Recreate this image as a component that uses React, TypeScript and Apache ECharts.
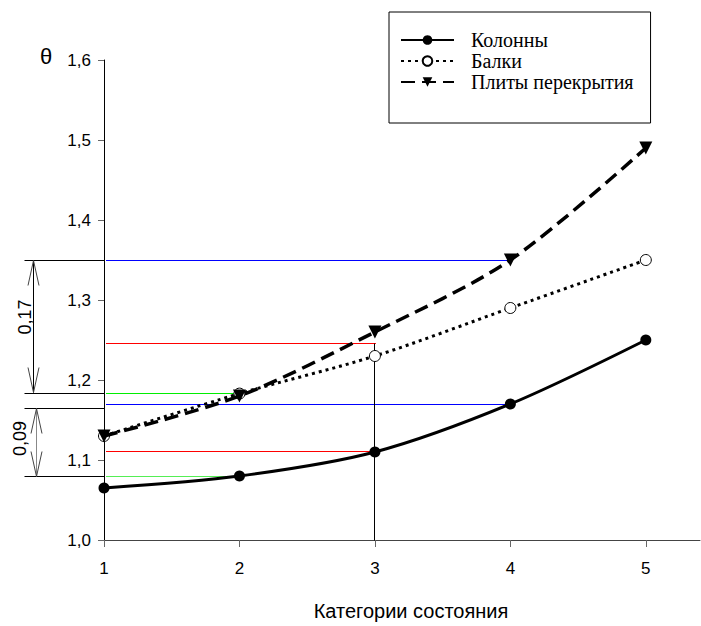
import React, { useEffect, useRef } from 'react';
import * as echarts from 'echarts';

const categories = [1, 2, 3, 4, 5];
const kolonny = [1.065, 1.08, 1.11, 1.17, 1.25];
const balki = [1.13, 1.183, 1.23, 1.29, 1.35];
const plity = [1.13, 1.18, 1.26, 1.35, 1.49];
const seriesNames = ['Колонны', 'Балки', 'Плиты перекрытия'];

// horizontal reference lines: value and x-end
const refValues = [1.35, 1.246, 1.183, 1.17, 1.111, 1.079];
const refEnds = [4, 3, 2, 4, 3, 2];
const refColors = ['#0000ff', '#ff0000', '#00ee00', '#0000ff', '#ff0000', '#55ee55'];

// dimension annotations
const dimUpper = [1.35, 1.183];
const dimLower = [1.165, 1.079];
const dimLabels = ['0,17', '0,09'];
const verticalAt = 3;
const verticalTop = 1.246;

const axisTitle = 'Категории состояния';
const yName = 'θ';

export default function App() {
  const ref = useRef<HTMLDivElement>(null);
  useEffect(() => {
    if (!ref.current) return;
    const chart = echarts.init(ref.current, undefined, { renderer: 'svg' });
    const sans = 'Liberation Sans, Arial, sans-serif';
    const serif = 'Liberation Serif, Times New Roman, serif';
    const snap = (v: number) => Math.round(v - 0.5) + 0.5;

    const annotationRender = (params: any, api: any) => {
      const ax = snap(api.coord([1, 1.0])[0]);
      const Y = (v: number) => snap(api.coord([1, v])[1]);
      const children: any[] = [];
      const black = { stroke: '#000', lineWidth: 1 };
      // vertical line at category 3
      const vx = snap(api.coord([verticalAt, 1.0])[0]);
      children.push({ type: 'line', shape: { x1: vx, y1: Y(1.0), x2: vx, y2: Y(verticalTop) }, style: black });
      // extension lines
      [...dimUpper, ...dimLower].forEach((v) => {
        children.push({ type: 'line', shape: { x1: ax - 80, y1: Y(v), x2: ax, y2: Y(v) }, style: black });
      });
      const arrow = (x: number, y1: number, y2: number, gray: boolean) => {
        children.push({ type: 'line', shape: { x1: x, y1, x2: x, y2 }, style: { stroke: gray ? '#888' : '#000', lineWidth: 1 } });
        children.push({ type: 'polyline', shape: { points: [[x - 5.5, y1 + 25], [x, y1], [x + 5.5, y1 + 25]] }, style: { stroke: '#444', lineWidth: 1, fill: null } });
        children.push({ type: 'polyline', shape: { points: [[x - 5.5, y2 - 25], [x, y2], [x + 5.5, y2 - 25]] }, style: { stroke: '#444', lineWidth: 1, fill: null } });
      };
      arrow(ax - 71, Y(dimUpper[0]), Y(dimUpper[1]) - 1, false);
      arrow(ax - 68, Y(dimLower[0]), Y(dimLower[1]), true);
      children.push({
        type: 'text', x: ax - 80, y: (Y(dimUpper[0]) + Y(dimUpper[1])) / 2 - 10, rotation: Math.PI / 2,
        style: { text: dimLabels[0], font: `18px ${sans}`, fill: '#000', align: 'center', verticalAlign: 'middle' },
      });
      children.push({
        type: 'text', x: ax - 85, y: (Y(dimLower[0]) + Y(dimLower[1])) / 2 - 4, rotation: Math.PI / 2,
        style: { text: dimLabels[1], font: `18px ${sans}`, fill: '#000', align: 'center', verticalAlign: 'middle' },
      });
      return { type: 'group', children };
    };

    chart.setOption({
      animation: false,
      backgroundColor: '#fff',
      grid: { left: 104, top: 60, right: 1, bottom: 80, containLabel: false },
      legend: {
        orient: 'vertical',
        left: 389,
        top: 12,
        padding: [18, 17, 31, 11],
        borderColor: '#000',
        borderWidth: 1,
        itemWidth: 53,
        itemHeight: 12,
        itemGap: 1,
        textStyle: { fontFamily: serif, fontSize: 20, color: '#000', lineHeight: 20, padding: [0, 0, 0, 12] },
        data: seriesNames,
      },
      xAxis: {
        type: 'value',
        min: 1,
        max: 5.4,
        interval: 1,
        splitLine: { show: false },
        axisLine: { lineStyle: { color: '#444', width: 1 } },
        axisTick: { length: 7, lineStyle: { color: '#666' }, customValues: categories },
        axisLabel: { customValues: categories, margin: 20, fontSize: 17, color: '#000', fontFamily: sans, formatter: (v: number) => String(v) },
        name: axisTitle,
        nameLocation: 'middle',
        nameGap: 61,
        nameTextStyle: { fontSize: 20, color: '#000', fontFamily: sans, padding: [0, 0, 0, 18] },
      },
      yAxis: {
        type: 'value',
        min: 1.0,
        max: 1.6,
        interval: 0.1,
        splitLine: { show: false },
        axisLine: { show: true, lineStyle: { color: '#000', width: 1 } },
        axisTick: { show: true, length: 6, lineStyle: { color: '#666' } },
        axisLabel: { margin: 13, fontSize: 17, color: '#000', fontFamily: sans, formatter: (v: number) => v.toFixed(1).replace('.', ',') },
      },
      graphic: [
        { type: 'text', left: 40, top: 45, style: { text: yName, font: `22px ${sans}`, fill: '#000' } },
      ],
      series: [
        {
          type: 'custom',
          name: 'refs',
          silent: true,
          clip: false,
          z: 1,
          data: refValues.map((v, i) => [refEnds[i], v]),
          renderItem: (params: any, api: any) => {
            const end = api.coord([api.value(0), api.value(1)]);
            const start = api.coord([1, api.value(1)]);
            const y = snap(start[1]);
            return {
              type: 'line',
              shape: { x1: start[0] + 2, y1: y, x2: end[0] + 1, y2: y },
              style: { stroke: refColors[params.dataIndex], lineWidth: 1 },
            };
          },
        },
        {
          type: 'custom',
          name: 'annotations',
          silent: true,
          clip: false,
          z: 1,
          data: [[1, 1]],
          renderItem: annotationRender,
        },
        {
          name: seriesNames[0],
          type: 'line',
          z: 3,
          data: categories.map((c, i) => [c, kolonny[i]]),
          smooth: 0.3,
          symbol: 'circle',
          symbolSize: 11,
          itemStyle: { color: '#000' },
          lineStyle: { color: '#000', width: 3 },
        },
        {
          name: seriesNames[1],
          type: 'line',
          z: 3,
          data: categories.map((c, i) => [c, balki[i]]),
          smooth: 0.3,
          symbol: 'circle',
          symbolSize: 11,
          itemStyle: { color: '#fff', borderColor: '#000', borderWidth: 1 },
          lineStyle: { color: '#000', width: 3, type: [3, 4] },
        },
        {
          name: seriesNames[2],
          type: 'line',
          z: 4,
          data: categories.map((c, i) => [c, plity[i]]),
          smooth: 0.3,
          symbol: 'triangle',
          symbolRotate: 180,
          symbolSize: 13,
          itemStyle: { color: '#000' },
          lineStyle: { color: '#000', width: 3.5, type: [14, 7] },
        },
      ],
    });
    return () => chart.dispose();
  }, []);
  return <div ref={ref} style={{ width: 701, height: 626, position: 'absolute', left: 0, top: 0 }} />;
}
